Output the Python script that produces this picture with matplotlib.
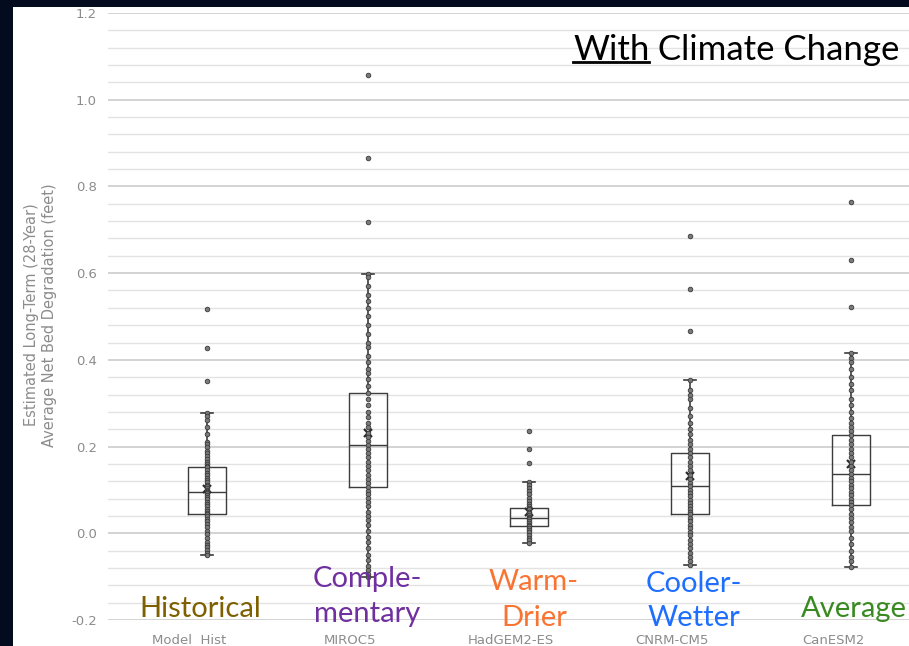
import matplotlib.pyplot as plt
from matplotlib.patches import Rectangle
from matplotlib.ticker import MultipleLocator
import matplotlib.transforms as mtransforms

# model names on the category axis
models = ['Model  Hist', 'MIROC5', 'HadGEM2-ES', 'CNRM-CM5', 'CanESM2']

# scenario labels written over the chart, with their colours
scenario_lines = [['Historical'], ['Comple-', 'mentary'], ['Warm-', 'Drier'],
                  ['Cooler-', 'Wetter'], ['Average']]
scenario_colors = ['#7f6000', '#7030a0', '#f97432', '#1f6fff', '#3a8a22']

# box statistics (feet)
q1 = [0.044, 0.106, 0.016, 0.044, 0.065]
median = [0.095, 0.203, 0.035, 0.108, 0.136]
q3 = [0.152, 0.323, 0.058, 0.185, 0.226]
whis_lo = [-0.051, -0.100, -0.023, -0.072, -0.078]
whis_hi = [0.277, 0.598, 0.118, 0.353, 0.415]
mean = [0.102, 0.231, 0.048, 0.131, 0.159]

# individual values (inner points and outliers), estimated
hist_pts = [0.517, 0.427, 0.351, 0.277, 0.27, 0.262, 0.245, 0.228, 0.21, 0.205,
            0.198, 0.19, 0.185, 0.178, 0.172, 0.165, 0.16, 0.155, 0.152, 0.145,
            0.14, 0.135, 0.128, 0.122, 0.118, 0.112, 0.108, 0.104, 0.10, 0.097,
            0.095, 0.092, 0.088, 0.083, 0.078, 0.073, 0.068, 0.062, 0.057, 0.052,
            0.047, 0.044, 0.04, 0.034, 0.028, 0.021, 0.014, 0.006, -0.002, -0.012,
            -0.02, -0.026, -0.032, -0.038, -0.045, -0.051]
miroc_pts = [1.057, 0.865, 0.717, 0.598, 0.59, 0.57, 0.55, 0.535, 0.52, 0.50,
             0.48, 0.46, 0.44, 0.43, 0.41, 0.395, 0.38, 0.37, 0.355, 0.34, 0.323,
             0.31, 0.295, 0.28, 0.268, 0.255, 0.245, 0.232, 0.222, 0.212, 0.203,
             0.195, 0.185, 0.175, 0.165, 0.155, 0.145, 0.135, 0.125, 0.115, 0.106,
             0.098, 0.09, 0.082, 0.072, 0.062, 0.05, 0.04, 0.03, 0.018, 0.005,
             -0.008, -0.02, -0.035, -0.05, -0.062, -0.075, -0.085, -0.095, -0.10]
hadgem_pts = [0.235, 0.194, 0.161, 0.118, 0.112, 0.105, 0.098, 0.09, 0.082, 0.075,
              0.068, 0.062, 0.058, 0.055, 0.05, 0.046, 0.042, 0.038, 0.035, 0.032,
              0.028, 0.024, 0.02, 0.016, 0.012, 0.008, 0.003, -0.003, -0.01,
              -0.016, -0.023]
cnrm_pts = [0.685, 0.563, 0.466, 0.353, 0.33, 0.32, 0.31, 0.29, 0.27, 0.255,
            0.24, 0.228, 0.215, 0.205, 0.195, 0.185, 0.175, 0.165, 0.155, 0.145,
            0.135, 0.125, 0.115, 0.108, 0.10, 0.092, 0.085, 0.077, 0.07, 0.062,
            0.055, 0.049, 0.044, 0.036, 0.028, 0.02, 0.012, 0.004, -0.005, -0.015,
            -0.025, -0.035, -0.045, -0.055, -0.065, -0.072]
canesm_pts = [0.764, 0.630, 0.521, 0.415, 0.405, 0.395, 0.38, 0.36, 0.345, 0.33,
              0.31, 0.295, 0.28, 0.265, 0.255, 0.245, 0.235, 0.226, 0.215, 0.205,
              0.195, 0.185, 0.175, 0.165, 0.155, 0.145, 0.136, 0.128, 0.12, 0.112,
              0.104, 0.096, 0.088, 0.08, 0.072, 0.065, 0.055, 0.045, 0.035, 0.025,
              0.015, 0.005, -0.01, -0.025, -0.04, -0.055, -0.065, -0.078]
points = [hist_pts, miroc_pts, hadgem_pts, cnrm_pts, canesm_pts]

W, H = 909, 646
fig = plt.figure(figsize=(W / 100, H / 100), dpi=100)
fig.patch.set_facecolor('#020c1e')
fig.patches.append(Rectangle((13 / W, 0), 1, 1 - 7 / H, transform=fig.transFigure,
                             facecolor='white', edgecolor='none', zorder=-1))


def fx(px):
    return px / W


def fy(py):
    return 1 - py / H


ax = fig.add_axes([fx(108), fy(620), 1 - fx(108), fy(13) - fy(620)])
ax.set_facecolor('white')
ax.set_zorder(1)

pos = list(range(len(models)))
stats = []
for i in pos:
    stats.append({'q1': q1[i], 'med': median[i], 'q3': q3[i], 'whislo': whis_lo[i],
                  'whishi': whis_hi[i], 'mean': mean[i], 'fliers': []})

edge = '#3c3c3c'
ax.bxp(stats, positions=pos, widths=0.23, capwidths=0.07, showmeans=True,
       boxprops=dict(color=edge, lw=1.0), medianprops=dict(color=edge, lw=1.0),
       whiskerprops=dict(color=edge, lw=1.2), capprops=dict(color=edge, lw=1.2),
       meanprops=dict(marker='x', markeredgecolor='#2a2a2a', markersize=6, mew=1.6),
       zorder=3)

for i, pts in zip(pos, points):
    ax.scatter([i] * len(pts), pts, s=11, facecolor='#7a7a7a', edgecolor='#3a3a3a',
               linewidths=0.6, zorder=4)

ax.set_ylim(-0.2, 1.2)
ax.set_xlim((108 - 207) / 161, (909 - 207) / 161)
ax.yaxis.set_major_locator(MultipleLocator(0.2))
ax.yaxis.set_minor_locator(MultipleLocator(0.04))
ax.grid(which='major', axis='y', color='#cccccc', lw=1.2)
ax.grid(which='minor', axis='y', color='#e3e3e3', lw=1.0)
ax.set_axisbelow(True)
for s in ax.spines.values():
    s.set_visible(False)
ax.tick_params(which='both', length=0)
ax.tick_params(axis='y', labelsize=9.5, labelcolor='#8c8c8c', pad=8)
ax.set_yticks([-0.2, 0.0, 0.2, 0.4, 0.6, 0.8, 1.0, 1.2])
ax.set_yticklabels(['-0.2', '0.0', '0.2', '0.4', '0.6', '0.8', '1.0', '1.2'])
ax.set_xticks(pos)
ax.set_xticklabels(models)
ax.tick_params(axis='x', labelsize=9.5, labelcolor='#8c8c8c', pad=10)
shift = mtransforms.ScaledTranslation(-18 / 100, 0, fig.dpi_scale_trans)
for lab in ax.get_xticklabels():
    lab.set_transform(lab.get_transform() + shift)

# y axis title, two lines
fig.text(fx(32), fy(315), 'Estimated Long-Term (28-Year)', rotation=90,
         ha='center', va='center', fontsize=10.5, color='#8c8c8c')
fig.text(fx(50), fy(315), 'Average Net Bed Degradation (feet)', rotation=90,
         ha='center', va='center', fontsize=10.5, color='#8c8c8c')

font = 'Lato'
# scenario labels (pixel anchors: centre x, baselines)
anchors = [(200, [617]), (367, [587, 622]), (534, [590, 626]),
           (694, [592, 626]), (801, [617])]
for k, (cx, bases) in enumerate(anchors):
    for line, by in zip(scenario_lines[k], bases):
        ha = 'left' if k == 4 else 'center'
        fig.text(fx(cx), fy(by), line, ha=ha, va='baseline', fontsize=21,
                 family=font, color=scenario_colors[k], zorder=5)

# title with underlined first word
t1 = fig.text(fx(573), fy(60), 'With', ha='left', va='baseline', fontsize=25,
              family=font, color='black', zorder=5)
fig.canvas.draw()
bb = t1.get_window_extent()
fig.add_artist(plt.Line2D([bb.x0 / W, bb.x1 / W], [fy(62), fy(62)],
                          transform=fig.transFigure, color='black', lw=2, zorder=5))
fig.text(bb.x1 / W, fy(60), ' Climate Change', ha='left', va='baseline',
         fontsize=25, family=font, color='black', zorder=5)

fig.savefig('out.png', dpi=100, facecolor=fig.get_facecolor())
